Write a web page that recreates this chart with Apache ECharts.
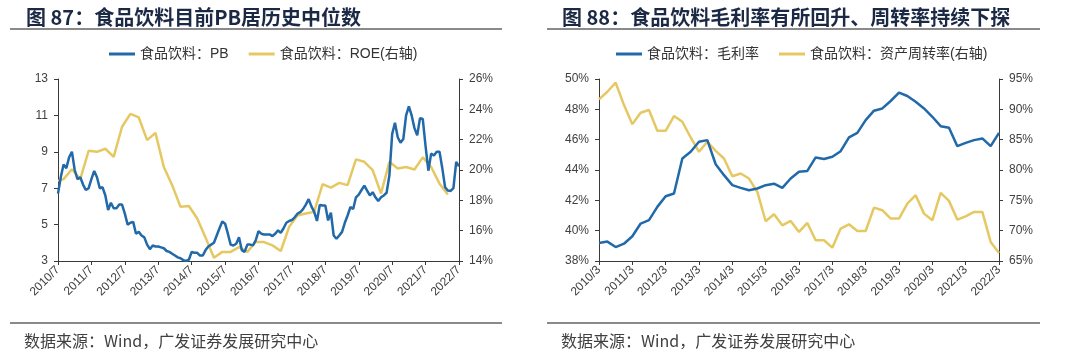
<!DOCTYPE html>
<html>
<head>
<meta charset="utf-8">
<script src="https://cdn.jsdelivr.net/npm/echarts@6/dist/echarts.min.js"></script>
<style>
html,body{margin:0;padding:0;background:#fff;}
#main{width:1080px;height:357px;}
</style>
</head>
<body>
<div id="main"></div>
<script>
// ---------- Left chart: PB (monthly) and ROE (quarterly) ----------
const pbMonths = [];
for (let y = 2010, m = 7; y < 2022 || (y === 2022 && m <= 7); ) {
  pbMonths.push(y + '/' + m);
  m++; if (m > 12) { m = 1; y++; }
}
const pbValues = [
  6.7, 7.6, 8.3, 8.1, 8.7, 9.0, 8.0, 7.5, 7.6, 7.2, 6.9, 7.0,
  7.5, 7.95, 7.6, 7.0, 7.05, 6.6, 5.8, 6.2, 5.9, 5.9, 6.1, 6.1,
  5.6, 5.0, 5.1, 5.15, 4.5, 4.6, 4.4, 4.3, 3.9, 3.65, 3.85, 3.8,
  3.8, 3.75, 3.7, 3.55, 3.5, 3.4, 3.3, 3.2, 3.15, 3.05, 3.0, 3.07,
  3.5, 3.45, 3.45, 3.3, 3.3, 3.6, 3.8, 3.9, 4.0, 4.4, 4.8, 5.17,
  5.05, 4.5, 3.9, 3.85, 3.95, 4.3, 3.6, 3.5, 3.9, 3.9, 3.86, 4.13,
  4.64, 4.5, 4.46, 4.46, 4.46, 4.37, 4.5, 4.68, 4.55, 4.8, 5.1, 5.2,
  5.25, 5.4, 5.6, 5.68, 5.85, 6.1, 6.4, 6.0, 5.7, 5.2, 6.08, 6.05,
  6.05, 5.23, 5.65, 4.4, 4.22, 4.4, 4.6, 5.1, 5.5, 5.96, 5.86, 6.5,
  6.65, 6.9, 7.14, 6.87, 6.6, 6.78, 6.5, 6.3, 6.5, 6.6, 6.75, 7.7,
  9.97, 10.6, 9.8, 9.5, 9.7, 11.0, 11.5, 11.0, 10.3, 9.9, 10.85, 10.8,
  9.3, 7.96, 8.9, 8.8, 9.0, 9.0, 8.1, 7.05, 6.87, 6.85, 7.0, 8.45,
  8.2
];
const roeMonths = ['2010/7'];
for (let y = 2010, m = 9; y < 2022 || (y === 2022 && m <= 3); ) {
  roeMonths.push(y + '/' + m);
  m += 3; if (m > 12) { m -= 12; y++; }
}
const roeValues = [
  19.28, 19.4, 20.05, 19.4, 21.27, 21.2, 21.4, 20.87, 22.85, 23.7,
  23.47, 21.97, 22.45, 20.2, 19.0, 17.57, 17.63, 16.8, 15.54, 14.22,
  14.6, 14.6, 14.92, 14.6, 15.25, 15.25, 15.03, 14.66, 16.25, 17.0,
  17.13, 17.24, 19.06, 18.84, 19.15, 19.0, 20.7, 20.54, 19.99, 18.45,
  20.54, 20.1, 20.2, 20.03, 20.83, 20.2, 19.1, 18.38
];

// ---------- Right chart: gross margin and asset turnover (quarterly) ----------
const quarters = [];
for (let y = 2010, m = 3; y < 2022 || (y === 2022 && m <= 3); ) {
  quarters.push(y + '/' + m);
  m += 3; if (m > 12) { m -= 12; y++; }
}
const marginValues = [
  39.19, 39.28, 38.92, 39.14, 39.63, 40.47, 40.69, 41.57, 42.27, 42.45,
  44.76, 45.2, 45.86, 45.97, 44.38, 43.66, 43.0, 42.82, 42.67, 42.78,
  43.0, 43.1, 42.82, 43.44, 43.88, 43.94, 44.83, 44.72, 44.87, 45.24,
  46.15, 46.45, 47.29, 47.91, 48.06, 48.55, 49.1, 48.88, 48.5, 48.06,
  47.51, 46.89, 46.78, 45.57, 45.79, 45.97, 46.08, 45.57, 46.45
];
const turnoverValues = [
  91.64, 92.9, 94.39, 90.7, 87.56, 89.44, 89.88, 86.46, 86.46, 88.89,
  87.95, 85.36, 83.0, 84.65, 83.16, 81.9, 78.98, 79.42, 78.59, 76.39,
  71.55, 72.7, 70.89, 71.6, 69.79, 71.27, 68.41, 68.41, 67.2, 70.34,
  71.05, 69.95, 69.95, 73.8, 73.37, 71.99, 71.99, 74.47, 75.84, 72.81,
  71.71, 76.23, 74.91, 71.82, 72.37, 73.09, 73.09, 68.14, 66.32
];

const leftTicks = { min: 3, max: 13, interval: 2 };
const leftTicksR = { min: 14, max: 26, interval: 2 };
const rightTicks = { min: 38, max: 50, interval: 2 };
const rightTicksR = { min: 65, max: 95, interval: 5 };

const BLUE = '#2169a8';
const YELLOW = '#e6c862';
const AXIS = '#3a3a3a';
const LBL = '#404040';
const FONT = 'Arial, "Liberation Sans", "Noto Sans CJK SC", sans-serif';
const CJK = '"Noto Sans CJK SC", sans-serif';

function yAxis(grid, t, pos, pct) {
  return {
    type: 'value', gridIndex: grid, position: pos,
    min: t.min, max: t.max, interval: t.interval,
    axisLine: { show: true, lineStyle: { color: AXIS, width: 1 } },
    axisTick: { show: true, inside: false, length: 4, lineStyle: { color: AXIS } },
    splitLine: { show: false },
    axisLabel: { color: LBL, fontSize: 12, fontFamily: FONT, margin: 10,
      formatter: pct ? '{value}%' : '{value}' }
  };
}
function xAxis(grid, cats, every) {
  return {
    type: 'category', gridIndex: grid, data: cats, boundaryGap: false,
    axisLine: { show: true, onZero: false, lineStyle: { color: AXIS, width: 1 } },
    axisTick: { show: true, interval: every - 1, length: 4, lineStyle: { color: AXIS } },
    axisLabel: { interval: every - 1, rotate: 45, color: LBL, fontSize: 12, fontFamily: FONT, margin: 7 },
    splitLine: { show: false }
  };
}

const chart = echarts.init(document.getElementById('main'), null, { renderer: 'canvas' });
chart.setOption({
  animation: false,
  backgroundColor: '#ffffff',
  title: [
    { text: '图 87：食品饮料目前PB居历史中位数', left: 21, top: 2,
      textStyle: { fontFamily: CJK, fontSize: 20, fontWeight: 'bold', color: '#1b2945' } },
    { text: '图 88：食品饮料毛利率有所回升、周转率持续下探', left: 557, top: 2,
      textStyle: { fontFamily: CJK, fontSize: 20, fontWeight: 'bold', color: '#1b2945' } },
    { text: '数据来源：Wind，广发证券发展研究中心', left: 19, top: 328,
      textStyle: { fontFamily: CJK, fontSize: 16, fontWeight: 'normal', color: '#404040' } },
    { text: '数据来源：Wind，广发证券发展研究中心', left: 556, top: 328,
      textStyle: { fontFamily: CJK, fontSize: 16, fontWeight: 'normal', color: '#404040' } }
  ],
  graphic: [
    { type: 'line', shape: { x1: 10, y1: 29, x2: 502, y2: 29 }, style: { stroke: '#8a8a8a', lineWidth: 2 } },
    { type: 'line', shape: { x1: 547, y1: 29, x2: 1040, y2: 29 }, style: { stroke: '#8a8a8a', lineWidth: 2 } },
    { type: 'line', shape: { x1: 10, y1: 323, x2: 502, y2: 323 }, style: { stroke: '#8a8a8a', lineWidth: 2 } },
    { type: 'line', shape: { x1: 547, y1: 323, x2: 1040, y2: 323 }, style: { stroke: '#8a8a8a', lineWidth: 2 } }
  ],
  legend: [
    { data: ['食品饮料：PB', '食品饮料：ROE(右轴)'], left: 104, top: 42,
      icon: 'rect', itemWidth: 26, itemHeight: 3, itemGap: 20,
      textStyle: { fontFamily: FONT, fontSize: 14, color: '#333' } },
    { data: ['食品饮料：毛利率', '食品饮料：资产周转率(右轴)'], left: 611, top: 42,
      icon: 'rect', itemWidth: 26, itemHeight: 3, itemGap: 20,
      textStyle: { fontFamily: FONT, fontSize: 14, color: '#333' } }
  ],
  grid: [
    { left: 58, top: 79, width: 401, height: 182 },
    { left: 599, top: 79, width: 400, height: 182 }
  ],
  xAxis: [ xAxis(0, pbMonths, 12), xAxis(1, quarters, 4) ],
  yAxis: [
    yAxis(0, leftTicks, 'left', false),
    yAxis(0, leftTicksR, 'right', true),
    yAxis(1, rightTicks, 'left', true),
    yAxis(1, rightTicksR, 'right', true)
  ],
  series: [
    { name: '食品饮料：PB', type: 'line', xAxisIndex: 0, yAxisIndex: 0,
      data: pbValues, showSymbol: false, symbol: 'none',
      lineStyle: { color: BLUE, width: 2.5 }, itemStyle: { color: BLUE }, z: 3 },
    { name: '食品饮料：ROE(右轴)', type: 'line', xAxisIndex: 0, yAxisIndex: 1,
      data: roeMonths.map((c, i) => [c, roeValues[i]]), showSymbol: false, symbol: 'none',
      lineStyle: { color: YELLOW, width: 2.5 }, itemStyle: { color: YELLOW }, z: 2 },
    { name: '食品饮料：毛利率', type: 'line', xAxisIndex: 1, yAxisIndex: 2,
      data: marginValues, showSymbol: false, symbol: 'none',
      lineStyle: { color: BLUE, width: 2.5 }, itemStyle: { color: BLUE }, z: 3 },
    { name: '食品饮料：资产周转率(右轴)', type: 'line', xAxisIndex: 1, yAxisIndex: 3,
      data: turnoverValues, showSymbol: false, symbol: 'none',
      lineStyle: { color: YELLOW, width: 2.5 }, itemStyle: { color: YELLOW }, z: 2 }
  ]
});
</script>
</body>
</html>
